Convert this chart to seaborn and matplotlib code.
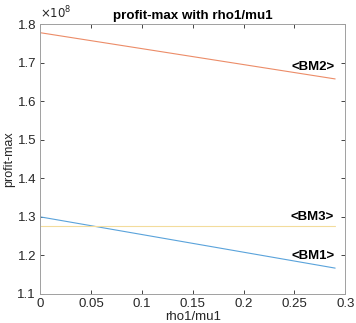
import pandas as pd
import matplotlib.pyplot as plt
import seaborn as sns

# data
rho = [0.0, 0.29]
bm1 = [1.300e8, 1.167e8]
bm2 = [1.778e8, 1.658e8]
bm3 = [1.277e8, 1.277e8]
names = ['BM1', 'BM2', 'BM3']
colors = {'BM1': '#5aa3db', 'BM2': '#ec8c68', 'BM3': '#f3dc9c'}

df = pd.DataFrame({'rho1/mu1': rho * 3,
                   'profit': bm1 + bm2 + bm3,
                   'model': [n for n in names for _ in rho]})

sns.set_style('ticks')
plt.rcParams['font.family'] = ['Liberation Sans', 'DejaVu Sans']

fig = plt.figure(figsize=(3.56, 3.23), dpi=100)
ax = fig.add_axes([0.113, 0.09, 0.857, 0.835])
sns.lineplot(data=df, x='rho1/mu1', y='profit', hue='model', palette=colors,
             linewidth=0.8, legend=False, ax=ax)

ax.set_xlim(0, 0.3)
ax.set_ylim(1.1e8, 1.8e8)
ax.set_xticks([0, 0.05, 0.1, 0.15, 0.2, 0.25, 0.3])
ax.set_xticklabels(['0', '0.05', '0.1', '0.15', '0.2', '0.25', '0.3'])
ax.set_yticks([1.1e8 + i * 0.1e8 for i in range(8)])
ax.set_yticklabels(['1.1', '1.2', '1.3', '1.4', '1.5', '1.6', '1.7', '1.8'])
ax.tick_params(direction='in', length=3, width=0.6, labelsize=9.5, colors='#262626',
               top=True, right=True, pad=3)
for s in ax.spines.values():
    s.set_color('#a0a0a0')
    s.set_linewidth(0.7)

ax.set_xlabel('rho1/mu1', fontsize=9.5, color='#262626', labelpad=1)
ax.set_ylabel('profit-max', fontsize=9, color='#262626', labelpad=2)
ax.set_title('profit-max with rho1/mu1', fontsize=9.6, fontweight='bold',
             color='black', pad=4)
ax.text(0.0, 1.01, r'$\times10^8$', transform=ax.transAxes, fontsize=8.5,
        color='#262626', ha='left', va='bottom')

for lab, y in [('<BM2>', 1.69e8), ('<BM3>', 1.30e8), ('<BM1>', 1.198e8)]:
    ax.text(0.289, y, lab, fontsize=9.5, fontweight='bold', color='black',
            ha='right', va='center')

fig.savefig('out.png', dpi=100)
